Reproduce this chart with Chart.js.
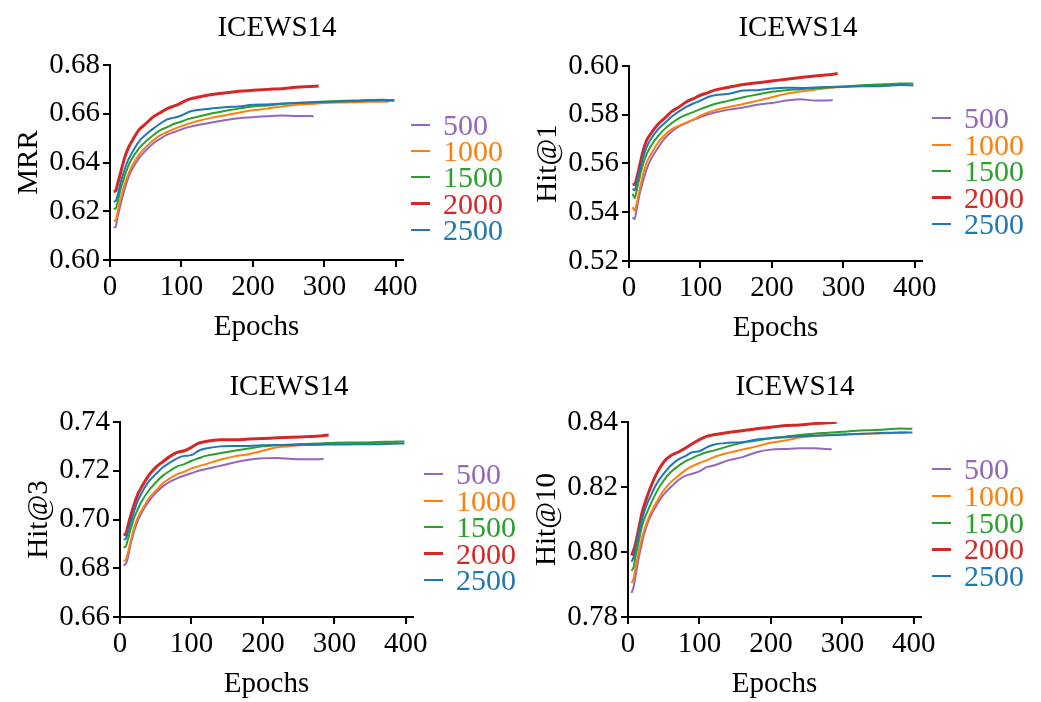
<!DOCTYPE html>
<html>
<head>
<meta charset="utf-8">
<title>ICEWS14 training curves</title>
<script src="https://cdn.jsdelivr.net/npm/chart.js@4.4.1/dist/chart.umd.min.js"></script>
<style>
  body { margin: 0; background: #fff; width: 1041px; height: 702px; overflow: hidden; position: relative;
         font-family: "Liberation Serif", "Times New Roman", serif; }
  canvas { position: absolute; }
  .title { position: absolute; width: 300px; text-align: center; font-size: 29px; line-height: 29px; color: #000; }
  .key-line { position: absolute; width: 19px; }
  .key-text { position: absolute; font-size: 30px; line-height: 30px; white-space: nowrap; }
</style>
</head>
<body>
<script>
// runs with different batch sizes
const runLabels = ['500', '1000', '1500', '2000', '2500'];
const runColors = ['#9467bd', '#ff7f0e', '#2ca02c', '#d62728', '#1f77b4'];

// evaluation epochs (shared start, runs stop at different epochs)
const baseEpochs = [5, 8, 10, 15, 20, 25, 30, 40, 50, 60, 70, 80, 90, 100, 110, 120, 140, 160, 180, 200, 220, 240, 260];
const epochs500 = baseEpochs.concat([285]);
const epochs1000 = baseEpochs.concat([280, 300, 320, 340, 360, 390]);
const epochs1500 = baseEpochs.concat([280, 300, 320, 340, 360, 380, 398]);
const epochs2000 = baseEpochs.concat([280, 292]);
const epochs2500 = baseEpochs.concat([280, 300, 320, 340, 360, 380, 398]);

// MRR
const mrr500 = [.6134, .6136, .6168, .6230, .6285, .6333, .6367, .6415, .6449, .6477, .6497, .6514, .6525, .6536, .6545, .6552, .6563, .6573, .6582, .6586, .6590, .6593, .6591, .6590];
const mrr1000 = [.6162, .6162, .6189, .6251, .6305, .6347, .6381, .6429, .6463, .6490, .6511, .6525, .6538, .6549, .6559, .6568, .6582, .6593, .6604, .6614, .6621, .6630, .6636, .6640, .6644, .6646, .6647, .6649, .6650];
const mrr1500 = [.6210, .6212, .6230, .6292, .6340, .6381, .6412, .6456, .6486, .6511, .6532, .6545, .6559, .6568, .6579, .6586, .6600, .6611, .6621, .6630, .6634, .6640, .6644, .6647, .6650, .6652, .6654, .6656, .6657, .6656];
const mrr2000 = [.6281, .6284, .6305, .6360, .6415, .6456, .6484, .6532, .6559, .6586, .6604, .6621, .6632, .6645, .6659, .6666, .6678, .6685, .6692, .6696, .6700, .6703, .6709, .6712, .6714];
const mrr2500 = [.6240, .6242, .6258, .6319, .6367, .6408, .6436, .6484, .6514, .6538, .6559, .6577, .6584, .6593, .6607, .6614, .6621, .6627, .6630, .6637, .6638, .6642, .6644, .6646, .6648, .6650, .6652, .6654, .6655, .6653];

// Hit@1
const hit1_500 = [.5379, .5372, .5400, .5476, .5531, .5579, .5614, .5662, .5703, .5731, .5752, .5766, .5779, .5791, .5801, .5809, .5821, .5830, .5841, .5848, .5858, .5864, .5858, .5859];
const hit1_1000 = [.5421, .5407, .5427, .5496, .5558, .5607, .5634, .5683, .5717, .5741, .5755, .5768, .5780, .5796, .5808, .5818, .5832, .5844, .5858, .5872, .5886, .5895, .5903, .5910, .5914, .5917, .5920, .5923, .5925];
const hit1_1500 = [.5476, .5458, .5480, .5545, .5600, .5641, .5669, .5710, .5742, .5766, .5786, .5800, .5811, .5823, .5834, .5844, .5858, .5872, .5883, .5894, .5901, .5905, .5909, .5912, .5916, .5920, .5923, .5925, .5928, .5928];
const hit1_2000 = [.5513, .5516, .5531, .5593, .5655, .5697, .5720, .5759, .5786, .5814, .5832, .5852, .5866, .5880, .5890, .5901, .5913, .5924, .5931, .5938, .5946, .5953, .5959, .5964, .5969];
const hit1_2500 = [.5496, .5490, .5510, .5572, .5628, .5669, .5697, .5738, .5766, .5793, .5814, .5832, .5846, .5858, .5872, .5880, .5886, .5899, .5901, .5908, .5911, .5910, .5912, .5914, .5915, .5917, .5917, .5919, .5922, .5920];

// Hit@3
const hit3_500 = [.6811, .6818, .6831, .6900, .6954, .6995, .7027, .7073, .7109, .7136, .7155, .7169, .7180, .7190, .7200, .7207, .7220, .7234, .7245, .7251, .7252, .7248, .7247, .7248];
const hit3_1000 = [.6831, .6834, .6852, .6913, .6968, .7009, .7036, .7084, .7118, .7149, .7169, .7186, .7196, .7210, .7218, .7227, .7245, .7259, .7268, .7282, .7296, .7302, .7306, .7309, .7312, .7313, .7313, .7315, .7317];
const hit3_1500 = [.6886, .6889, .6907, .6961, .7009, .7043, .7073, .7118, .7152, .7180, .7200, .7218, .7227, .7241, .7251, .7261, .7272, .7282, .7291, .7300, .7305, .7308, .7310, .7312, .7315, .7316, .7316, .7318, .7319, .7320];
const hit3_2000 = [.6941, .6937, .6961, .7016, .7064, .7104, .7132, .7180, .7214, .7237, .7259, .7275, .7282, .7296, .7313, .7320, .7327, .7327, .7330, .7332, .7335, .7337, .7340, .7343, .7347];
const hit3_2500 = [.6917, .6921, .6937, .6988, .7036, .7077, .7107, .7155, .7186, .7214, .7234, .7251, .7261, .7264, .7282, .7291, .7300, .7302, .7302, .7305, .7306, .7306, .7307, .7307, .7308, .7308, .7309, .7309, .7311, .7312];

// Hit@10
const hit10_500 = [.7874, .7894, .7919, .7981, .8032, .8073, .8103, .8144, .8177, .8200, .8220, .8234, .8241, .8248, .8261, .8266, .8282, .8292, .8307, .8315, .8317, .8319, .8319, .8316];
const hit10_1000 = [.7904, .7919, .7945, .8001, .8047, .8083, .8111, .8154, .8190, .8215, .8234, .8251, .8264, .8274, .8282, .8292, .8305, .8315, .8325, .8336, .8343, .8352, .8357, .8360, .8362, .8363, .8364, .8365, .8368];
const hit10_1500 = [.7942, .7955, .7981, .8032, .8083, .8113, .8139, .8185, .8220, .8246, .8264, .8279, .8289, .8299, .8307, .8312, .8325, .8336, .8343, .8350, .8355, .8360, .8364, .8367, .8370, .8373, .8375, .8377, .8380, .8379];
const hit10_2000 = [.7989, .8006, .8021, .8072, .8124, .8159, .8190, .8241, .8277, .8297, .8307, .8319, .8333, .8346, .8356, .8361, .8368, .8373, .8379, .8384, .8389, .8391, .8395, .8398, .8399];
const hit10_2500 = [.7970, .7985, .8006, .8057, .8103, .8139, .8164, .8210, .8241, .8266, .8284, .8295, .8307, .8310, .8322, .8330, .8336, .8338, .8346, .8350, .8353, .8356, .8358, .8359, .8361, .8363, .8365, .8367, .8368, .8368];

const xTicks = [0, 100, 200, 300, 400];

const runEpochs = [epochs500, epochs1000, epochs1500, epochs2000, epochs2500];
const FONT = '"Liberation Serif", "Times New Roman", serif';

// one panel per metric: canvas origin, y range, title and key placement
const panels = [
  { metric: 'MRR', runs: [mrr500, mrr1000, mrr1500, mrr2000, mrr2500], yMin: 0.60, yMax: 0.68,
    left: 0, top: 0, titleX: 277, titleY: 26, keyX: 411, keyY: 125, keyStep: 26.2 },
  { metric: 'Hit@1', runs: [hit1_500, hit1_1000, hit1_1500, hit1_2000, hit1_2500], yMin: 0.52, yMax: 0.60,
    left: 519, top: 1, titleX: 798, titleY: 26, keyX: 932, keyY: 118, keyStep: 26.5 },
  { metric: 'Hit@3', runs: [hit3_500, hit3_1000, hit3_1500, hit3_2000, hit3_2500], yMin: 0.66, yMax: 0.74,
    left: 10, top: 357, titleX: 289, titleY: 385, keyX: 424, keyY: 474, keyStep: 26.6 },
  { metric: 'Hit@10', runs: [hit10_500, hit10_1000, hit10_1500, hit10_2000, hit10_2500], yMin: 0.78, yMax: 0.84,
    left: 518, top: 357, titleX: 795, titleY: 385, keyX: 932, keyY: 469, keyStep: 26.8 }
];

function addDiv(cls, css, text) {
  const d = document.createElement('div');
  d.className = cls;
  Object.assign(d.style, css);
  if (text) d.textContent = text;
  document.body.appendChild(d);
  return d;
}

panels.forEach(p => {
  const canvas = document.createElement('canvas');
  canvas.width = 433;
  canvas.height = 350;
  canvas.style.left = p.left + 'px';
  canvas.style.top = p.top + 'px';
  document.body.appendChild(canvas);

  const axisFont = { family: FONT, size: 29 };
  const grid = { drawOnChartArea: false, drawTicks: true, tickLength: 7, lineWidth: 2, tickWidth: 2, tickColor: '#000' };

  new Chart(canvas, {
    type: 'line',
    data: {
      datasets: runLabels.map((label, i) => ({
        label: label,
        data: runEpochs[i].map((e, k) => ({ x: e, y: p.runs[i][k] })),
        borderColor: runColors[i],
        borderWidth: i === 3 ? 3 : 2,
        pointRadius: 0,
        fill: false,
        cubicInterpolationMode: 'monotone',
        order: 4 - i
      }))
    },
    options: {
      responsive: false,
      animation: false,
      devicePixelRatio: 1,
      layout: { padding: { left: 0, top: 65, right: 30, bottom: 0 } },
      plugins: { legend: { display: false }, tooltip: { enabled: false } },
      scales: {
        x: {
          type: 'linear', min: 0, max: 410,
          afterBuildTicks: s => { s.ticks = xTicks.map(v => ({ value: v })); },
          ticks: { color: '#000', font: axisFont, padding: 3, maxRotation: 0 },
          grid: grid,
          border: { color: '#000', width: 2 },
          title: { display: true, text: 'Epochs', color: '#000', font: axisFont, padding: { top: 0, bottom: 5 } },
          afterFit: s => { s.height = 90; }
        },
        y: {
          min: p.yMin, max: p.yMax,
          ticks: { stepSize: 0.02, color: '#000', font: axisFont, padding: 3, callback: v => v.toFixed(2) },
          grid: grid,
          border: { color: '#000', width: 2 },
          title: { display: true, text: p.metric, color: '#000', font: axisFont, padding: { top: 12, bottom: 0 } },
          afterFit: s => { s.width = 110; }
        }
      }
    }
  });

  addDiv('title', { left: (p.titleX - 150) + 'px', top: (p.titleY - 14) + 'px' }, 'ICEWS14');

  runLabels.forEach((label, i) => {
    const cy = p.keyY + i * p.keyStep;
    const lw = i === 3 ? 3 : 2;
    addDiv('key-line', { left: p.keyX + 'px', top: (cy - lw / 2) + 'px', height: lw + 'px', background: runColors[i] });
    addDiv('key-text', { left: (p.keyX + 32) + 'px', top: (cy - 15) + 'px', color: runColors[i] }, label);
  });
});
</script>
</body>
</html>
